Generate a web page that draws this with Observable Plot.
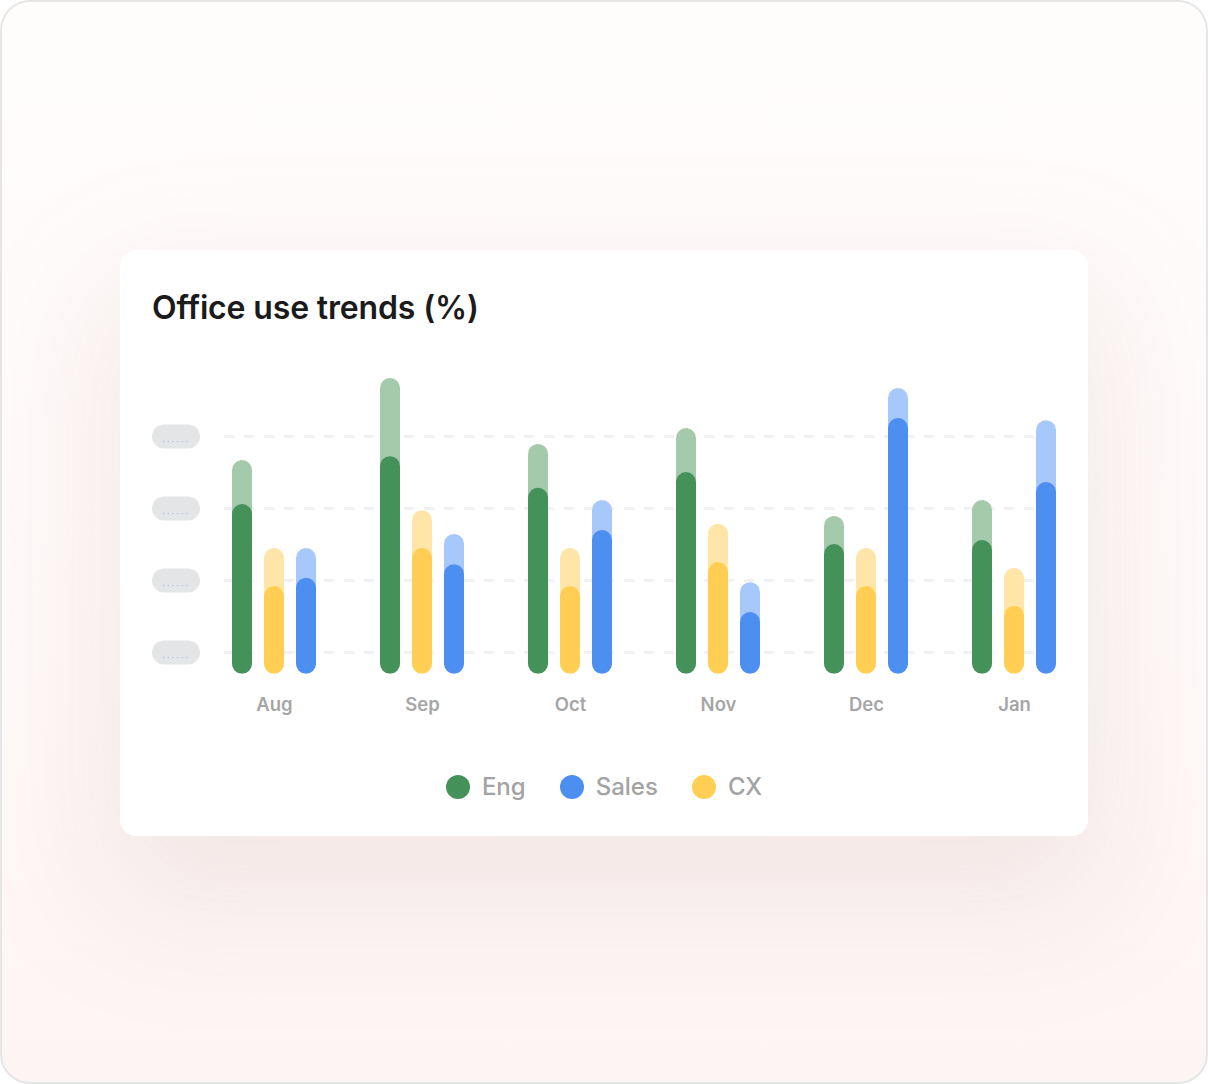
<!DOCTYPE html>
<html>
<head>
<meta charset="utf-8">
<script src="https://cdn.jsdelivr.net/npm/d3@7"></script>
<script src="https://cdn.jsdelivr.net/npm/@observablehq/plot@0.6"></script>
<style>
  html, body { margin: 0; padding: 0; }
  body {
    width: 1208px; height: 1084px; overflow: hidden;
    font-family: Inter, "Noto Sans", sans-serif;
    background: #ffffff;
    position: relative;
  }
  #frame {
    position: absolute; left: 0; top: 0;
    width: 1204px; height: 1080px;
    border: 2px solid #e6e6e6;
    border-radius: 30px;
    background: linear-gradient(180deg, #fffdfc 0%, #fefaf9 60%, #fdf5f4 100%);
    overflow: hidden;
  }
  #card {
    position: absolute; left: 120px; top: 250px;
    width: 968px; height: 586px;
    background: #ffffff;
    border-radius: 16px;
    box-shadow: 0 50px 130px 25px rgba(175, 125, 125, 0.13);
  }
  #title {
    position: absolute; left: 32px; top: 38px;
    font-size: 32px; font-weight: 600; color: #1b1b1b;
    letter-spacing: -0.15px;
  }
  #chart { position: absolute; left: 0; top: 90px; }
  #legend {
    position: absolute; left: 0; top: 522px; width: 968px;
    display: flex; justify-content: center; align-items: center; gap: 34px;
  }
  .item { display: flex; align-items: center; gap: 12px;
    font-size: 24px; font-weight: 500; color: #a3a3a3; }
  .sw { width: 24px; height: 24px; border-radius: 50%; }
</style>
</head>
<body>
<div id="frame"></div>
<div id="card">
  <div id="title">Office use trends (%)</div>
  <div id="chart"></div>
  <div id="legend"></div>
</div>
<script>
const months = ["Aug", "Sep", "Oct", "Nov", "Dec", "Jan"];
const seriesOrder = ["Eng", "CX", "Sales"];
const legendOrder = ["Eng", "Sales", "CX"];
const engActual   = [47.1, 60.4, 51.6, 56.0, 36.0, 37.1];
const engPeak     = [59.3, 82.1, 63.8, 68.2, 43.8, 48.2];
const cxActual    = [24.3, 34.9, 24.3, 31.0, 24.3, 18.8];
const cxPeak      = [34.9, 45.4, 34.9, 41.6, 34.9, 29.3];
const salesActual = [26.6, 30.4, 39.9, 17.1, 71.0, 53.2];
const salesPeak   = [34.9, 38.8, 48.2, 25.4, 79.3, 70.4];
const gridTicks   = [6, 26, 46, 66];

const darkColors  = {Eng: "#44925a", CX: "#ffce52", Sales: "#4d8ef1"};
const lightColors = {Eng: "#a4c9ab", CX: "#ffe6a8", Sales: "#a7c8fb"};
const actual = {Eng: engActual, CX: cxActual, Sales: salesActual};
const peak   = {Eng: engPeak, CX: cxPeak, Sales: salesPeak};
const offsets = {Eng: -32, CX: 0, Sales: 32};

const W = 968, H = 390;
const marks = [];

// gridlines
marks.push(Plot.ruleY(gridTicks, {
  y: d => d, stroke: "#f1f1f3", strokeWidth: 3, strokeDasharray: "10,10",
  insetLeft: 24, insetRight: 32
}));
// y-axis placeholder pills
marks.push(Plot.ruleY(gridTicks, {
  y: d => d, stroke: "#e4e5e7", strokeWidth: 24, strokeLinecap: "round",
  dx: -36, insetLeft: 0, insetRight: 864
}));
marks.push(Plot.text(gridTicks, {
  y: d => d, frameAnchor: "left", dx: -38, dy: 3, textAnchor: "start",
  text: () => ". . . . . .", fontSize: 8, fill: "#8fb0ee"
}));

for (const s of seriesOrder) {
  const rowsPeak = months.map((m, i) => ({month: m, value: peak[s][i]}));
  const rowsAct = months.map((m, i) => ({month: m, value: actual[s][i]}));
  marks.push(Plot.barY(rowsPeak, {
    x: "month", y: "value", fill: lightColors[s], rx: 10,
    insetLeft: 64, insetRight: 64, dx: offsets[s]
  }));
  marks.push(Plot.barY(rowsAct, {
    x: "month", y: "value", fill: darkColors[s], rx: 10,
    insetLeft: 64, insetRight: 64, dx: offsets[s]
  }));
}

// month labels
marks.push(Plot.text(months, {
  x: d => d, y: 0, dy: 31, text: d => d, textAnchor: "middle",
  lineAnchor: "middle", fontSize: 18.5, fontWeight: 600, fill: "#a6a6a6"
}));

const chart = Plot.plot({
  width: W, height: H,
  marginLeft: 80, marginRight: 0, marginTop: 0, marginBottom: 56,
  x: {domain: months, range: [80, 968], padding: 0, axis: null},
  y: {domain: [0, 90], range: [333.6, 9.6], axis: null},
  style: {background: "transparent", overflow: "visible", fontFamily: "Inter, 'Noto Sans', sans-serif"},
  marks
});
document.getElementById("chart").appendChild(chart);

const legend = document.getElementById("legend");
for (const s of legendOrder) {
  const it = document.createElement("div");
  it.className = "item";
  const sw = document.createElement("div");
  sw.className = "sw";
  sw.style.background = darkColors[s];
  const t = document.createElement("span");
  t.textContent = s;
  it.appendChild(sw); it.appendChild(t);
  legend.appendChild(it);
}
</script>
</body>
</html>
